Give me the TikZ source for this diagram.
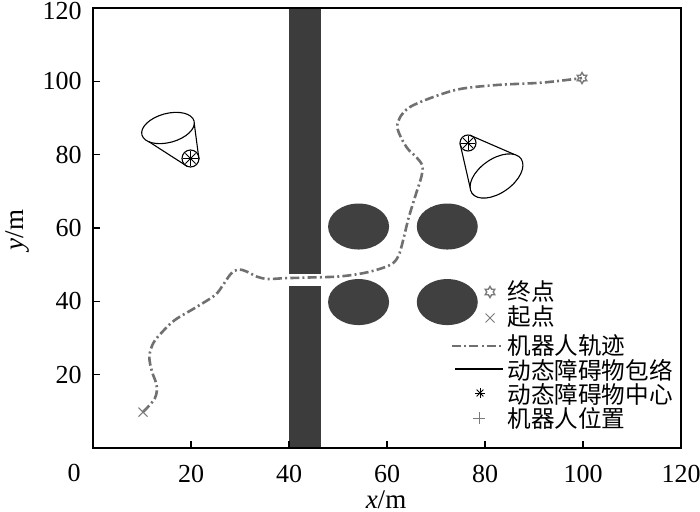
\documentclass[tikz,border=0pt]{standalone}
\usepackage{fontspec}
\setmainfont{Liberation Serif}
\newfontfamily\cjk{Noto Sans CJK SC}
\usetikzlibrary{shapes.geometric,shapes.misc}
\definecolor{wallc}{HTML}{3C3C3C}
\definecolor{obstc}{HTML}{404040}
\definecolor{trajc}{HTML}{707070}
\definecolor{markc}{HTML}{7A7A7A}
\tikzset{
  traj/.style={draw=trajc, line width=1.3pt, dash pattern=on 4.5pt off 1.6pt on 1pt off 1.6pt},
  envl/.style={draw=black, line width=0.55pt},
  spoke/.style={draw=black, line width=0.4pt},
  ticklab/.style={font=\fontsize{13}{13}\selectfont, inner sep=0pt},
  axlab/.style={font=\fontsize{13.5}{13.5}\selectfont, inner sep=0pt},
  legtext/.style={font=\cjk\fontsize{11.8}{11.8}\selectfont, anchor=west, inner sep=0pt},
  hexmark/.style={star, star points=6, star point ratio=1.7, draw=markc, line width=0.7pt, minimum size=5.5pt, inner sep=0pt},
  xmark/.style={cross out, draw=markc, line width=0.5pt, minimum size=4pt, inner sep=0pt},
}
\begin{document}
\begin{tikzpicture}[x=0.5pt,y=-0.5pt]
\useasboundingbox (0,0) rectangle (700,512);
\fill[white] (0,0) rectangle (700,512);

% ---- data coordinates: x 0..120, y 0..120
\begin{scope}[shift={(46.5pt,-224pt)}, x=2.45pt, y=1.833333pt]
  \fill[wallc] (40,47.5) rectangle (46.5,120);
  \fill[wallc] (40,0) rectangle (46.5,44.3);
  \foreach \cx/\cy [count=\k] in {54.2/60.4, 72.3/60.4, 54.2/39.8, 72.3/39.8}
    \fill[obstc] (\cx,\cy) ellipse [x radius=15.25pt, y radius=11.5pt];
  \coordinate (start) at (10.2,9.8);
  \coordinate (goal) at (99.8,100.9);
  \draw[traj] plot[smooth, tension=0.55] coordinates {(start) (12.6,13.5) (13.0,17.0) (12.0,21.0) (11.5,25.0) (12.3,28.6) (14.1,31.6) (16.7,34.9) (20.8,38.2) (24.9,41.7) (26.6,44.6) (28.2,47.6) (29.7,48.7) (31.4,48.1) (33.5,46.7) (35.7,46.1) (39,46.3) (44,46.5) (50.4,46.8) (55.9,47.9) (60.6,49.9) (62.3,52.3) (63.3,56.7) (64.3,62.2) (65.7,68.4) (67.0,73.9) (67.2,77.0) (66.0,79.3) (64.3,81.5) (63.0,84.3) (62.1,87.5) (62.7,90.3) (64.7,93.0) (69.4,95.7) (74.9,97.9) (82.4,99.0) (91.2,99.6) (97.5,100.5) (goal)};
  \node[xmark] (startmark) at (start) {};
  \node[hexmark] (goalmark) at (goal) {};
\end{scope}

% ---- frame and ticks
\draw[line width=0.75pt] (93,8) rectangle (681,448);
\foreach \i in {1,...,5} {
  \draw[line width=0.6pt] (93+98*\i,448) -- ++(0,-7);
  \draw[line width=0.6pt] (93,448-73.333*\i) -- ++(7,0);
}
\node[ticklab] (zero) at (74,473) {0};
\foreach \v [count=\i] in {20,40,60,80,100,120} {
  \node[ticklab] (xl\i) at (93+98*\i,474) {\v};
}
\foreach \v [count=\i] in {20,40,60,80,100} {
  \node[ticklab, anchor=east] (yl\i) at (82,448-73.333*\i) {\v};
}
\node[ticklab, anchor=east] (yl6) at (82,11) {120};
\node[axlab] (xlab) at (386,500) {\textit{x}/m};
\node[axlab, rotate=90] (ylab) at (18,230) {\textit{y}/m};

% ---- left dynamic obstacle cone
\coordinate (lc) at (168,128);
\coordinate (la) at (190.5,158.5);
\draw[envl, rotate around={15:(lc)}] (lc) ellipse [x radius=13.5pt, y radius=7.25pt];
\draw[envl] (la) circle [radius=4.25pt];
\foreach \a in {0,45,90,135} \draw[spoke, shift={(la)}] (\a:3.6pt) -- (\a+180:3.6pt);
\coordinate (lt1) at (194.3,124);  \coordinate (lc1) at (199,159.4);
\coordinate (lt2) at (149,141.8);  \coordinate (lc2) at (187.3,166.4);
\draw[envl] (lt1) -- (lc1);
\draw[envl] (lt2) -- (lc2);

% ---- right dynamic obstacle cone
\coordinate (rc) at (496.5,176);
\coordinate (ra) at (468,143);
\draw[envl, rotate around={35:(rc)}] (rc) ellipse [x radius=15pt, y radius=8.5pt];
\draw[envl] (ra) circle [radius=4pt];
\foreach \a in {0,45,90,135} \draw[spoke, shift={(ra)}] (\a:3.4pt) -- (\a+180:3.4pt);
\coordinate (rt1) at (470.1,187.5); \coordinate (rc1) at (460,143.4);
\coordinate (rt2) at (514.2,154.4); \coordinate (rc2) at (469.9,135.2);
\draw[envl] (rt1) -- (rc1);
\draw[envl] (rt2) -- (rc2);

% ---- legend
\node[hexmark] (lg1m) at (490,292) {};
\node[legtext] (lg1) at (507,292) {终点};
\node[xmark] (lg2m) at (490,318) {};
\node[legtext] (lg2) at (507,317) {起点};
\coordinate (lg3a) at (452,346); \coordinate (lg3b) at (503,346);
\draw[traj] (lg3a) -- (lg3b);
\node[legtext] (lg3) at (507,346) {机器人轨迹};
\coordinate (lg4a) at (455,369); \coordinate (lg4b) at (503,369);
\draw[envl] (lg4a) -- (lg4b);
\node[legtext] (lg4) at (507,370) {动态障碍物包络};
\coordinate (lg5m) at (480,393);
\foreach \a in {0,45,90,135} \draw[spoke, shift={(lg5m)}] (\a:2.4pt) -- (\a+180:2.4pt);
\node[legtext] (lg5) at (507,394) {动态障碍物中心};
\coordinate (lg6m) at (479,418);
\draw[draw=markc, line width=0.5pt, shift={(lg6m)}] (-2.8pt,0) -- (2.8pt,0) (0,-2.8pt) -- (0,2.8pt);
\node[legtext] (lg6) at (507,418) {机器人位置};
\end{tikzpicture}
\end{document}
